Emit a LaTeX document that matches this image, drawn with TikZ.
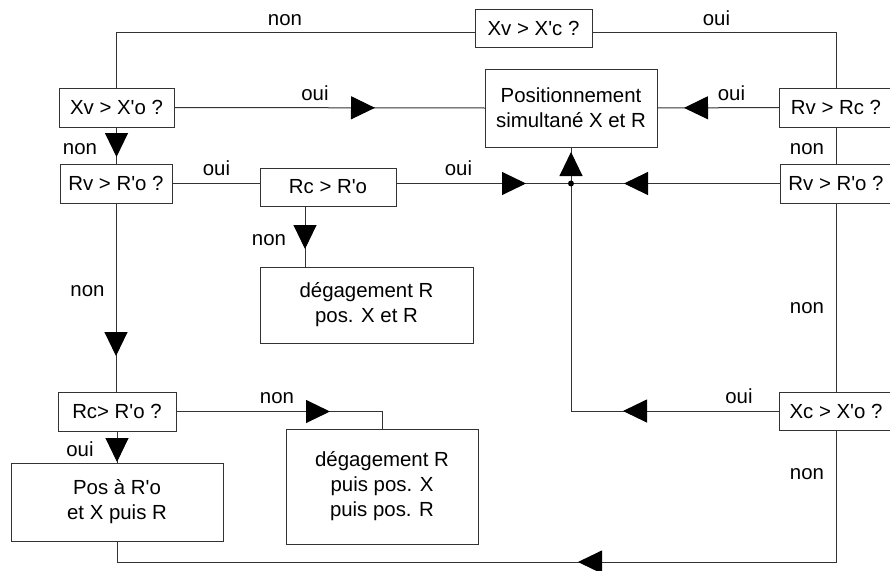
\documentclass[tikz,border=0pt]{standalone}
\usepackage{fontspec}
\setmainfont{Liberation Sans}
\usetikzlibrary{arrows.meta,decorations.markings}
\newcommand\apos{\textquotesingle}
\begin{document}
\begin{tikzpicture}[x=1pt,y=-1pt,
  every node/.style={font=\fontsize{20.4}{25}\selectfont},
  box/.style 2 args={draw=black!80, line width=1pt, minimum width=#1, minimum height=#2, inner sep=0pt, outer sep=0pt, align=center},
  ln/.style={draw=black!80, line width=1pt},
  arrat/.style={postaction={decorate}, decoration={markings, mark=at position #1 with {\arrow[black]{Triangle[length=24pt,width=23pt]}}}},
  lab/.style={anchor=base, inner sep=0pt}
]
\useasboundingbox (0,0) rectangle (890,570);
\clip (0,0) rectangle (890,570);

% boxes
\node[box={117pt}{38pt}] (xvxc) at (533.5,28) {Xv > X\apos c ?};
\node[box={115pt}{39pt}] (xvxo) at (116.5,107.5) {Xv > X\apos o ?};
\node[box={172pt}{78pt}] (pos) at (571,108) {Positionnement\\simultané X et R};
\node[box={114pt}{39pt}] (rvrc) at (836,107.5) {Rv > Rc ?};
\node[box={112pt}{39pt}] (rvroL) at (116,183.5) {Rv > R\apos o ?};
\node[box={136pt}{38pt}] (rcro) at (328,187) {Rc > R\apos o};
\node[box={112pt}{39pt}] (rvroR) at (836,183.5) {Rv > R\apos o ?};
\node[box={213pt}{76pt}] (deg1) at (366.5,305) {dégagement R\\pos. X et R};
\node[box={118pt}{39pt}] (rcroQ) at (117,411.5) {Rc> R\apos o ?};
\node[box={114pt}{38pt}] (xcxo) at (836,411) {Xc > X\apos o ?};
\node[box={212pt}{78pt}] (posa) at (117,502) {Pos à R\apos o\\et X puis R};
\node[box={192pt}{115pt}] (deg2) at (382,486.5) {dégagement R\\puis pos. X\\puis pos. R};

% helper coordinates
\coordinate (ty) at (0,32);
\coordinate (bot) at (0,562);
\coordinate (J) at (pos.south |- rvroL.east);
\coordinate (b) at ([xshift=-23pt]rcro.south);

% connectors
\draw[ln] (xvxo.north) |- (ty -| xvxc.west);
\draw[ln] (ty -| xvxc.east) -| (rvrc.north);
\draw[ln, arrat=201pt] (xvxo.east) -- (pos.west);
\draw[ln, arrat=95pt] (rvrc.west) -- (pos.east);
\draw[ln, arrat=30pt] (xvxo.south) -- (xvxo.south |- rvroL.north);
\draw[ln] (rvrc.south) -- (rvroR.north);
\draw[ln] (rvroL.east) -- (rvroL.east -| rcro.west);
\draw[ln, arrat=130pt] (rvroL.east -| rcro.east) -- (J);
\draw[ln, arrat=156pt] (rvroR.west) -- (J);
\draw[ln, arrat=31.5pt] (J) -- (pos.south);
\draw[ln, arrat=156pt] (xcxo.west) -| (J);
\fill[black] (J) circle (3pt);
\draw[ln] (rvroR.south) -- (xcxo.north);
\draw[ln, arrat=43pt] (b) -- (b |- deg1.north);
\draw[ln, arrat=153pt] (rvroL.south) -- (rvroL.south |- rcroQ.north);
\draw[ln, arrat=31pt] (rcroQ.south) -- (rcroQ.south |- posa.north);
\draw[ln, arrat=154pt] (rcroQ.east) -| (deg2.north);
\draw[ln, arrat=390pt] (xcxo.south) |- (bot -| posa.south) -- (posa.south);

% labels
\node[lab] (l1) at (285,25) {non};
\node[lab] (l2) at (716.5,25) {oui};
\node[lab] (l3) at (315,100.7) {oui};
\node[lab] (l4) at (731.5,100) {oui};
\node[lab] (l5) at (80,154) {non};
\node[lab] (l6) at (807,154) {non};
\node[lab] (l7) at (216.5,175) {oui};
\node[lab] (l8) at (458.5,175) {oui};
\node[lab] (l9) at (269,245) {non};
\node[lab] (l10) at (87.5,296.7) {non};
\node[lab] (l11) at (807,313) {non};
\node[lab] (l12) at (739,403) {oui};
\node[lab] (l13) at (277,403) {non};
\node[lab] (l14) at (80,456) {oui};
\node[lab] (l15) at (807,479) {non};
\end{tikzpicture}
\end{document}
